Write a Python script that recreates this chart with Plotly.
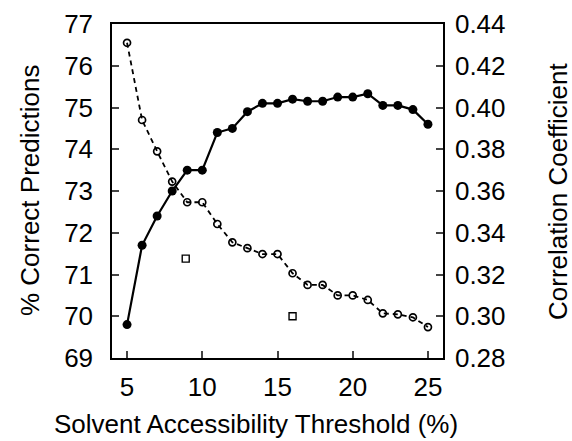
import plotly.graph_objects as go

threshold = [5, 6, 7, 8, 9, 10, 11, 12, 13, 14, 15, 16, 17, 18, 19, 20, 21, 22, 23, 24, 25]
pct_correct = [69.8, 71.7, 72.4, 73.0, 73.5, 73.5, 74.4, 74.5, 74.9, 75.1, 75.1, 75.2, 75.15,
               75.15, 75.25, 75.25, 75.33, 75.05, 75.05, 74.95, 74.6]
corr_coef = [0.431, 0.394, 0.379, 0.3645, 0.3546, 0.3546, 0.3442, 0.3354, 0.3326, 0.3298, 0.3298,
             0.3206, 0.315, 0.315, 0.310, 0.310, 0.3078, 0.3014, 0.3009, 0.2995, 0.2948]
square_x = [8.9, 16]
square_y = [71.38, 70.0]

left_ticks = [69, 70, 71, 72, 73, 74, 75, 76, 77]
right_ticks = [0.28, 0.30, 0.32, 0.34, 0.36, 0.38, 0.40, 0.42, 0.44]
x_ticks = [5, 10, 15, 20, 25]

FONT = "Liberation Sans, Arial, Helvetica, sans-serif"

fig = go.Figure()
fig.add_trace(go.Scatter(
    x=threshold, y=corr_coef, yaxis="y2", mode="lines+markers",
    line=dict(color="black", width=1.8, dash="5px,4px"),
    marker=dict(symbol="circle-open", size=7, color="black", line=dict(width=1.7)),
    showlegend=False))
fig.add_trace(go.Scatter(
    x=threshold, y=pct_correct, mode="lines+markers",
    line=dict(color="black", width=2.2),
    marker=dict(symbol="circle", size=9, color="black"),
    showlegend=False))
fig.add_trace(go.Scatter(
    x=square_x, y=square_y, mode="markers",
    marker=dict(symbol="square-open", size=7, color="black", line=dict(width=1.4)),
    showlegend=False))

fig.update_layout(
    width=572, height=441,
    margin=dict(l=112, r=129, t=24, b=83, autoexpand=False),
    paper_bgcolor="white", plot_bgcolor="white",
    font=dict(family=FONT, size=26, color="black"),
    xaxis=dict(range=[4.0, 26.0], tickvals=x_ticks, ticks="inside", ticklen=7,
               tickwidth=1.5, showline=True, linecolor="black", linewidth=1.5,
               mirror=True, showgrid=False, zeroline=False, ticklabelstandoff=5,
               automargin=False, tickfont=dict(size=26)),
    yaxis=dict(range=[69, 77], tickvals=left_ticks, ticks="inside", ticklen=7,
               tickwidth=1.5, showline=True, linecolor="black", linewidth=1.5,
               showgrid=False, zeroline=False, ticklabelstandoff=12,
               automargin=False, tickfont=dict(size=26)),
    yaxis2=dict(range=[0.28, 0.44], tickvals=right_ticks, tickformat=".2f",
                overlaying="y", side="right", ticks="inside", ticklen=7,
                tickwidth=1.5, showline=True, linecolor="black", linewidth=1.5,
                showgrid=False, zeroline=False, ticklabelstandoff=5,
                automargin=False, tickfont=dict(size=26)),
    annotations=[
        dict(text="Solvent Accessibility Threshold (%)", xref="paper", yref="paper",
             x=0.5, y=0, yshift=-66, xshift=-22, showarrow=False, font=dict(size=26),
             xanchor="center", yanchor="middle"),
        dict(text="% Correct Predictions", xref="paper", yref="paper",
             x=0, y=0.5, xshift=-82, showarrow=False, textangle=-90, font=dict(size=26),
             xanchor="center", yanchor="middle"),
        dict(text="Correlation Coefficient", xref="paper", yref="paper",
             x=1, y=0.5, xshift=115, showarrow=False, textangle=-90, font=dict(size=26),
             xanchor="center", yanchor="middle"),
    ],
)

fig.write_html("out.html", config={"displayModeBar": False},
               post_script="document.body.style.margin='0';")
